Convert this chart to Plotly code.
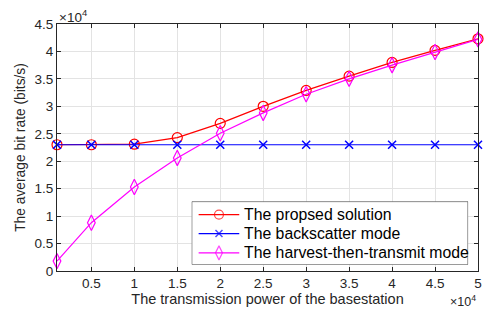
import plotly.graph_objects as go

power = [1000, 5000, 10000, 15000, 20000, 25000, 30000, 35000, 40000, 45000, 50000]
proposed = [23000, 23000, 23100, 24300, 26900, 30000, 32900, 35500, 38000, 40200, 42300]
backscatter = [23000, 23000, 23000, 23000, 23000, 23000, 23000, 23000, 23000, 23000, 23000]
htt = [1800, 8800, 15300, 20600, 25100, 28800, 32200, 35000, 37500, 39900, 42200]

series_names = ["The propsed solution", "The backscatter mode", "The harvest-then-transmit mode"]

x_tickvals = [5000, 10000, 15000, 20000, 25000, 30000, 35000, 40000, 45000, 50000]
x_ticktext = ["0.5", "1", "1.5", "2", "2.5", "3", "3.5", "4", "4.5", "5"]
y_tickvals = [0, 5000, 10000, 15000, 20000, 25000, 30000, 35000, 40000, 45000]
y_ticktext = ["0", "0.5", "1", "1.5", "2", "2.5", "3", "3.5", "4", "4.5"]

FONT = "Liberation Sans, Arial, sans-serif"
TXT = "#262626"

styles = [
    dict(color="#ff0000", symbol="circle-open", size=10, mlw=1.2),
    dict(color="#0000ff", symbol="x-thin-open", size=8, mlw=1.5),
    dict(color="#ff00ff", symbol="diamond-tall-open", size=11, mlw=1.2),
]
values = [proposed, backscatter, htt]

fig = go.Figure()
for name, vals, st in zip(series_names, values, styles):
    fig.add_trace(go.Scatter(x=power, y=vals, mode="lines+markers", name=name, showlegend=False,
                             cliponaxis=False,
                             line=dict(color=st["color"], width=1.2),
                             marker=dict(symbol=st["symbol"], size=st["size"], color=st["color"],
                                         line=dict(width=st["mlw"], color=st["color"]))))

# custom legend drawn on an auxiliary axis pair
fig.add_trace(go.Scatter(x=[0, 1, 1, 0, 0], y=[0, 0, 1, 1, 0], xaxis="x2", yaxis="y2", mode="lines",
                         fill="toself", fillcolor="white", line=dict(color=TXT, width=1),
                         showlegend=False, hoverinfo="skip", cliponaxis=False))
row_y = [0.794, 0.492, 0.186]
for name, st, ry in zip(series_names, styles, row_y):
    fig.add_trace(go.Scatter(x=[0.025, 0.0986, 0.172], y=[ry, ry, ry], xaxis="x2", yaxis="y2",
                             mode="lines+markers", showlegend=False, hoverinfo="skip", cliponaxis=False,
                             line=dict(color=st["color"], width=1.2),
                             marker=dict(symbol=st["symbol"], size=[0, st["size"] - 1, 0], color=st["color"],
                                         line=dict(width=st["mlw"], color=st["color"]))))
    fig.add_annotation(xref="x2", yref="y2", x=0.183, y=ry, xanchor="left", yanchor="middle",
                       text=name, showarrow=False, font=dict(family=FONT, size=15.8, color="#000000"))

axis_common = dict(showline=True, linecolor=TXT, linewidth=1, mirror="ticks", ticks="inside",
                   ticklen=4, tickcolor=TXT, showgrid=True, gridcolor="#e3e3e3", gridwidth=1,
                   zeroline=False, tickfont=dict(family=FONT, size=13.5, color=TXT))

hidden = dict(range=[0, 1], visible=False, fixedrange=True, showgrid=False, zeroline=False)

fig.update_layout(
    width=484, height=312,
    margin=dict(l=57, r=2, t=24, b=40.5),
    paper_bgcolor="white", plot_bgcolor="white",
    font=dict(family=FONT, color=TXT),
    showlegend=False,
    xaxis=dict(range=[1000, 50000], tickvals=x_tickvals, ticktext=x_ticktext,
               ticklabeloverflow="allow",
               title=dict(text="The transmission power of the basestation", font=dict(size=14.5, family=FONT, color=TXT), standoff=2),
               **axis_common),
    yaxis=dict(range=[0, 45000], tickvals=y_tickvals, ticktext=y_ticktext,
               title=dict(text="The average bit rate (bits/s)", font=dict(size=13.8, family=FONT, color=TXT), standoff=5),
               **axis_common),
    xaxis2=dict(domain=[0.32, 0.9765], anchor="y2", **hidden),
    yaxis2=dict(domain=[0.026, 0.281], anchor="x2", **hidden),
)

fig.add_annotation(xref="paper", yref="paper", x=0.0, y=1.0, xanchor="left", yanchor="bottom",
                   text="×10<sup>4</sup>", showarrow=False, font=dict(family=FONT, size=13.5, color=TXT), yshift=-3)
fig.add_annotation(xref="paper", yref="paper", x=1.0, y=0.0, xanchor="right", yanchor="top",
                   text="×10<sup>4</sup>", showarrow=False, font=dict(family=FONT, size=12.5, color=TXT), yshift=-20, xshift=0)

fig.write_html("out.html", config={"displayModeBar": False},
               post_script="document.body.style.margin='0px';document.body.style.overflow='hidden';")
